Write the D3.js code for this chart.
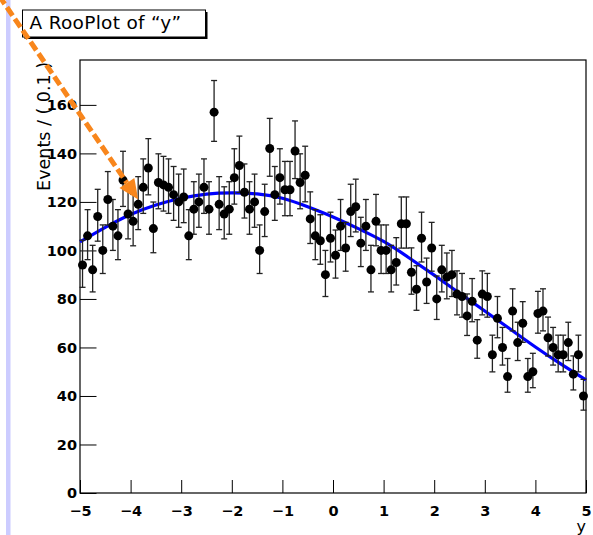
<!DOCTYPE html>
<html>
<head>
<meta charset="utf-8">
<script src="https://cdn.jsdelivr.net/npm/d3@7"></script>
<style>
  html, body { margin: 0; padding: 0; background: #fff; }
  svg { display: block; }
  text { font-family: "DejaVu Sans", "Liberation Sans", Arial, sans-serif; }
</style>
</head>
<body>
<script>
// Histogram of y: 100 bins of width 0.1 on [-5, 5]
const xLow = -5, xHigh = 5, binWidth = 0.1;
const counts = [
   94, 106,  92, 114, 100, 121, 110, 106, 129, 115,
  112, 119, 126, 134, 109, 128, 127, 126, 123, 120,
  122, 106, 117, 120, 126, 117, 157, 119, 115, 117,
  130, 135, 124, 117, 120, 100, 116, 142, 123, 130,
  125, 125, 141, 128, 131, 113, 106, 104,  90, 105,
   98, 110, 101, 116, 118, 103, 110,  92, 112, 100,
  100,  92,  95, 111, 111,  91,  84, 105,  87, 101,
   80,  92,  89,  90,  82,  81,  73,  79,  63,  82,
   81,  57,  72,  60,  48,  75,  62,  70,  48,  50,
   74,  75,  64,  60,  57,  57,  62,  49,  57,  40
];

// Fitted pdf, projected onto the frame
const pdfX = [-5, -4.5, -4, -3.5, -3, -2.5, -2, -1.5, -1, -0.5, 0, 0.5, 1, 1.5, 2, 2.5, 3, 3.5, 4, 4.5, 5];
const pdfY = [103.5, 109.5, 114.8, 118.7, 121.5, 123.2, 123.7, 123.3, 121.5, 118, 113.8, 109, 103.7, 97, 89.8, 82.4, 75, 67.6, 60.2, 53.2, 46.6];

// Axis ticks
const xMajorTicks = [-5, -4, -3, -2, -1, 0, 1, 2, 3, 4, 5];
const yMajorTicks = [0, 20, 40, 60, 80, 100, 120, 140, 160];
const yMax = 178.5;

// Annotation arrow (user coordinates)
const arrowFrom = [-6.6, 205];
const arrowTo = [-3.85, 121];

const W = 593, H = 535;
const frame = { left: 80, right: 586, top: 60, bottom: 493 };

const svg = d3.select("body").append("svg")
  .attr("width", W).attr("height", H)
  .attr("viewBox", `0 0 ${W} ${H}`);

svg.append("rect").attr("width", W).attr("height", H).attr("fill", "#fff");

// pad edge stripe
svg.append("rect")
  .attr("x", 6).attr("y", 0).attr("width", 4.5).attr("height", H)
  .attr("fill", "#ccccff");

const x = d3.scaleLinear().domain([xLow, xHigh]).range([frame.left, frame.right]);
const y = d3.scaleLinear().domain([0, yMax]).range([frame.bottom, frame.top]);

// Minor ticks
const xMinor = d3.range(-50, 51, 2).map(v => v / 10).filter(v => !xMajorTicks.includes(v));
const yMinor = d3.range(0, yMax, 5).filter(v => v % 20 !== 0);

const gx = svg.append("g").attr("transform", `translate(0,${frame.bottom})`);
gx.call(d3.axisBottom(x).tickValues(xMinor).tickSize(-7).tickFormat(""));
gx.call(d3.axisBottom(x).tickValues(xMajorTicks).tickSize(-13).tickPadding(13)
  .tickFormat(d3.format("d")));
gx.selectAll(".domain").remove();

const gy = svg.append("g").attr("transform", `translate(${frame.left},0)`);
gy.call(d3.axisLeft(y).tickValues(yMinor).tickSize(-8).tickFormat(""));
gy.call(d3.axisLeft(y).tickValues(yMajorTicks).tickSize(-16.5).tickPadding(3)
  .tickFormat(d3.format("d")));
gy.selectAll(".domain").remove();

svg.selectAll(".tick line").attr("stroke", "#000").attr("stroke-width", 1);
svg.selectAll(".tick text")
  .attr("fill", "#000")
  .style("font-size", "14.5px")
  .style("font-weight", "bold");

// Frame
svg.append("rect")
  .attr("x", frame.left).attr("y", frame.top)
  .attr("width", frame.right - frame.left).attr("height", frame.bottom - frame.top)
  .attr("fill", "none").attr("stroke", "#000").attr("stroke-width", 1.2);

// Data points with Poisson-style error bars
const bins = counts.map((n, i) => {
  const c = xLow + binWidth * (i + 0.5);
  const s = Math.sqrt(n + 0.25);
  return { x: c, n, lo: n - (s - 0.5), hi: n + (s + 0.5) };
});

const pts = svg.append("g");
pts.selectAll("line.err").data(bins).join("line")
  .attr("class", "err")
  .attr("x1", d => x(d.x)).attr("x2", d => x(d.x))
  .attr("y1", d => y(d.lo)).attr("y2", d => y(d.hi))
  .attr("stroke", "#222").attr("stroke-width", 1.3);
pts.selectAll("line.capTop").data(bins).join("line")
  .attr("class", "capTop")
  .attr("x1", d => x(d.x) - 3).attr("x2", d => x(d.x) + 3)
  .attr("y1", d => y(d.hi)).attr("y2", d => y(d.hi))
  .attr("stroke", "#222").attr("stroke-width", 1.3);
pts.selectAll("line.capBot").data(bins).join("line")
  .attr("class", "capBot")
  .attr("x1", d => x(d.x) - 3).attr("x2", d => x(d.x) + 3)
  .attr("y1", d => y(d.lo)).attr("y2", d => y(d.lo))
  .attr("stroke", "#222").attr("stroke-width", 1.3);

// Fitted curve
const pdf = pdfX.map((v, i) => [v, pdfY[i]]);
svg.append("path")
  .datum(pdf)
  .attr("d", d3.line().x(d => x(d[0])).y(d => y(d[1])).curve(d3.curveNatural))
  .attr("fill", "none").attr("stroke", "#0000ff").attr("stroke-width", 3.2);

pts.raise();
pts.selectAll("circle").data(bins).join("circle")
  .attr("cx", d => x(d.x)).attr("cy", d => y(d.n)).attr("r", 4.5)
  .attr("fill", "#000");

// Axis titles
svg.append("text")
  .attr("transform", `translate(50,${frame.top + 2}) rotate(-90)`)
  .attr("text-anchor", "end")
  .style("font-size", "17.5px")
  .attr("fill", "#000")
  .text("Events / ( 0.1 )");

svg.append("text")
  .attr("x", frame.right).attr("y", 532)
  .attr("text-anchor", "end")
  .style("font-size", "16px")
  .attr("fill", "#000")
  .text("y");

// Title box with drop shadow
const tb = { x: 22.5, y: 10, w: 183, h: 27 };
svg.append("rect")
  .attr("x", tb.x + 2).attr("y", tb.y + 2).attr("width", tb.w).attr("height", tb.h)
  .attr("fill", "#000");
svg.append("rect")
  .attr("x", tb.x).attr("y", tb.y).attr("width", tb.w).attr("height", tb.h)
  .attr("fill", "#fff").attr("stroke", "#000").attr("stroke-width", 1);
svg.append("text")
  .attr("x", tb.x + 7).attr("y", tb.y + 19)
  .style("font-size", "18.5px")
  .style("letter-spacing", "0.3px")
  .attr("fill", "#000")
  .text("A RooPlot of \u201Cy\u201D");

// Dashed orange arrow
const ax0 = x(arrowFrom[0]), ay0 = y(arrowFrom[1]);
const ax1 = x(arrowTo[0]), ay1 = y(arrowTo[1]);
const len = Math.hypot(ax1 - ax0, ay1 - ay0);
const ux = (ax1 - ax0) / len, uy = (ay1 - ay0) / len;
const headLen = 20, headHalf = 9;
const bx = ax1 - ux * headLen, by = ay1 - uy * headLen;
const arrowColor = "#f8861c";
svg.append("line")
  .attr("x1", ax0).attr("y1", ay0).attr("x2", bx).attr("y2", by)
  .attr("stroke", arrowColor).attr("stroke-width", 5)
  .attr("stroke-dasharray", "10,4");
svg.append("polygon")
  .attr("points", [
    [ax1, ay1],
    [bx - uy * headHalf, by + ux * headHalf],
    [bx + uy * headHalf, by - ux * headHalf]
  ].map(p => p.join(",")).join(" "))
  .attr("fill", arrowColor);
</script>
</body>
</html>
